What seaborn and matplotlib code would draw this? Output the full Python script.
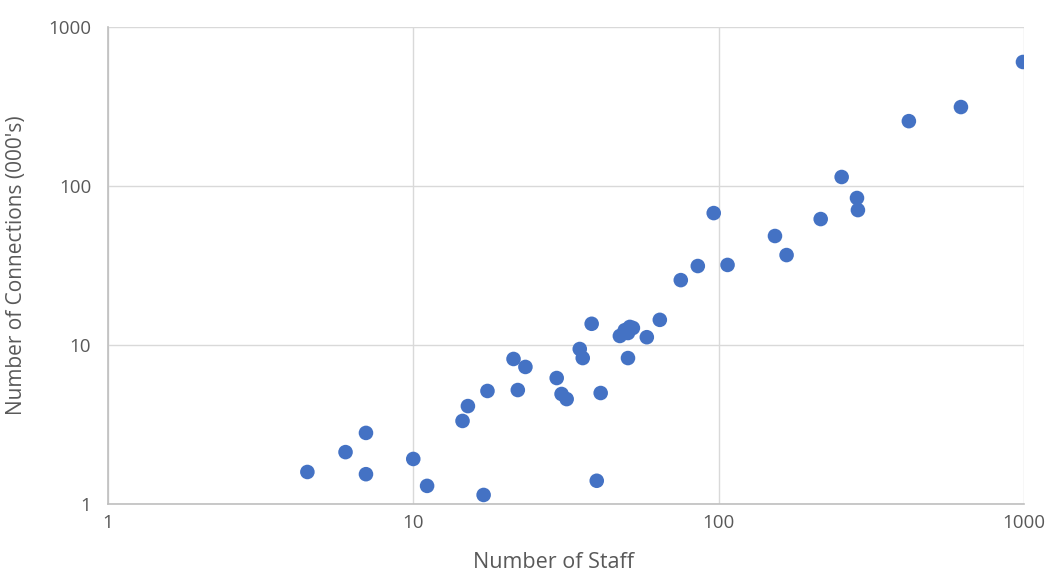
import matplotlib
matplotlib.use("Agg")
import matplotlib.pyplot as plt
import matplotlib.ticker as mticker
import seaborn as sb
import pandas as pd

# values (log-log scatter)
staff = [4.5, 6.0, 7.0, 7.0, 10.0, 11.1, 14.5, 15.1, 17.0, 17.5,
         21.3, 22.0, 23.3, 29.5, 30.6, 31.8, 35.1, 35.9, 38.4, 39.9,
         41.1, 47.5, 49.3, 51.2, 52.4, 50.5, 50.5, 58.2, 64.2, 75.2,
         85.5, 96.4, 107, 153, 167, 216, 253, 284, 286, 420,
         622, 993]
connections = [1.59, 2.12, 2.8, 1.54, 1.92, 1.3, 3.33, 4.13, 1.14, 5.14,
               8.17, 5.21, 7.28, 6.2, 4.92, 4.57, 9.44, 8.28, 13.6, 1.4,
               4.99, 11.4, 12.4, 13.0, 12.8, 11.9, 8.28, 11.2, 14.4, 25.6,
               31.4, 67.6, 31.9, 48.5, 36.8, 62.0, 114, 84.1, 70.6, 256,
               314, 603]
tick_vals = [1, 10, 100, 1000]
tick_labels = ["1", "10", "100", "1000"]

df = pd.DataFrame({"staff": staff, "connections": connections})

sb.set_style("white")
plt.rcParams['font.family'] = ['Open Sans', 'DejaVu Sans']

fig = plt.figure(figsize=(10.48, 5.76), dpi=100)
ax = fig.add_axes([0.103, 0.125, 0.874, 0.828])

sb.scatterplot(data=df, x="staff", y="connections", ax=ax,
               color="#4472C4", s=110, edgecolor="none", zorder=3)

ax.set_xscale("log")
ax.set_yscale("log")
ax.set_xlim(1, 1000)
ax.set_ylim(1, 1000)
ax.xaxis.set_major_locator(mticker.FixedLocator(tick_vals))
ax.yaxis.set_major_locator(mticker.FixedLocator(tick_vals))
ax.xaxis.set_minor_locator(mticker.NullLocator())
ax.yaxis.set_minor_locator(mticker.NullLocator())
ax.set_xticklabels(tick_labels)
ax.set_yticklabels(tick_labels)

ax.grid(True, color="#d9d9d9", linewidth=1.0)
for side in ["top", "right"]:
    ax.spines[side].set_visible(False)
for side in ["left", "bottom"]:
    ax.spines[side].set_color("#bfbfbf")
    ax.spines[side].set_linewidth(1.2)

ax.tick_params(axis="both", colors="#bfbfbf", labelcolor="#595959",
               labelsize=13.5, length=5, width=1, direction="out")
ax.tick_params(axis="y", pad=7)
ax.tick_params(axis="x", pad=2)

ax.set_xlabel("Number of Staff", fontsize=15.5, color="#595959")
ax.set_ylabel("Number of Connections (000's)", fontsize=15, color="#595959")
ax.xaxis.set_label_coords(0.486, -0.1)
ax.yaxis.set_label_coords(-0.088, 0.5)

fig.savefig("out.png", dpi=100)
